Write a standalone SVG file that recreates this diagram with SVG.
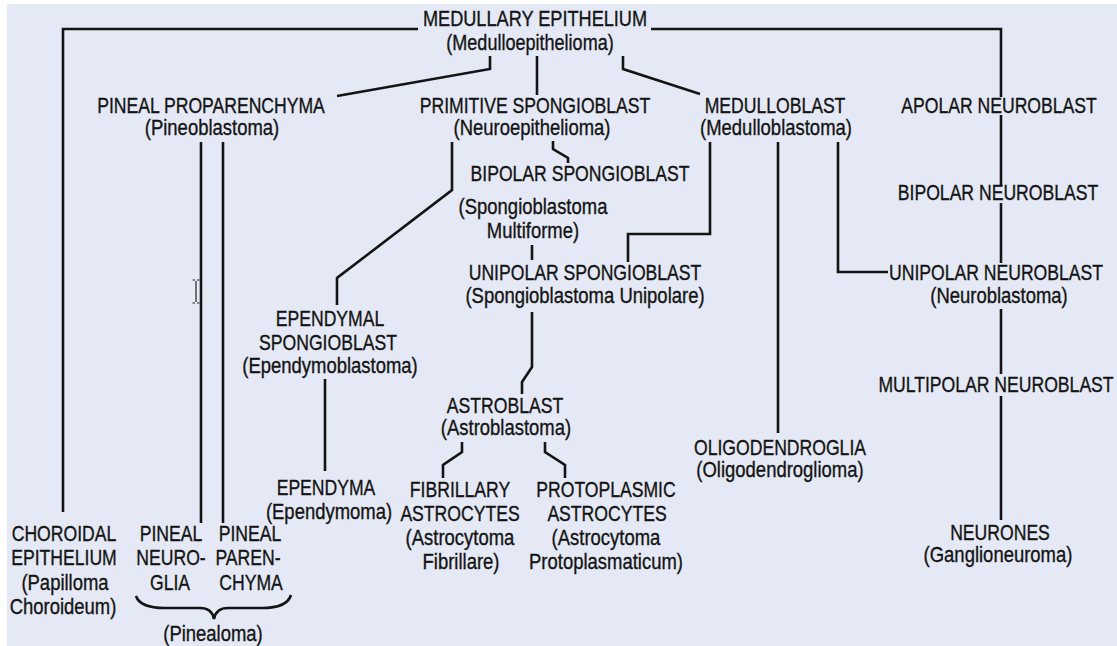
<svg xmlns="http://www.w3.org/2000/svg" width="1117" height="646" viewBox="0 0 1117 646">
<style>
text { font-family: "Liberation Sans", Arial, sans-serif; font-size: 22px; fill: #141414; stroke: #141414; stroke-width: 0.35px; text-anchor: middle; }
.c { fill: none; stroke: #141414; stroke-width: 2.6; stroke-linejoin: miter; }
.cur { fill: none; stroke: #222; stroke-width: 1.2; }
</style>
<rect x="0" y="0" width="1117" height="646" fill="#ffffff"/>
<rect x="7" y="4" width="1110" height="642" fill="#e4e9f5"/>

<g id="connectors">
<path class="c" d="M418,29 H63 V512"/>
<path class="c" d="M651,29 H1001 V97"/>
<path class="c" d="M490,56 V69 L337,96"/>
<path class="c" d="M537,56 V95"/>
<path class="c" d="M623,56 V69 L700,94"/>
<path class="c" d="M201,142 V523"/>
<path class="c" d="M223,142 V523"/>
<path class="c" d="M452,142 V190 L337,278 V305"/>
<path class="c" d="M553,141 V149 L568,158 V163"/>
<path class="c" d="M532,245 V260"/>
<path class="c" d="M710,142 V234 H628 V262"/>
<path class="c" d="M778,142 V433"/>
<path class="c" d="M838,142 V272 H888"/>
<path class="c" d="M1001,115 V186"/>
<path class="c" d="M1001,203 V263"/>
<path class="c" d="M1001,309 V374"/>
<path class="c" d="M1001,396 V520"/>
<path class="c" d="M532,312 V367 L522,382 V394"/>
<path class="c" d="M325,379 V471"/>
<path class="c" d="M462,442 V452 L443,465 V478"/>
<path class="c" d="M545,442 V452 L565,465 V478"/>
</g>

<g id="n-medullary">
<text transform="translate(535,26) scale(0.825,1)">MEDULLARY EPITHELIUM</text>
<text transform="translate(530,50) scale(0.82,1)">(Medulloepithelioma)</text>
</g>
<g id="n-pineal-proparenchyma">
<text transform="translate(211,113) scale(0.8,1)">PINEAL PROPARENCHYMA</text>
<text transform="translate(212,135) scale(0.84,1)">(Pineoblastoma)</text>
</g>
<g id="n-primitive-spongioblast">
<text transform="translate(535,113) scale(0.8,1)">PRIMITIVE SPONGIOBLAST</text>
<text transform="translate(532,135) scale(0.84,1)">(Neuroepithelioma)</text>
</g>
<g id="n-medulloblast">
<text transform="translate(775,113) scale(0.8,1)">MEDULLOBLAST</text>
<text transform="translate(776,135) scale(0.84,1)">(Medulloblastoma)</text>
</g>
<g id="n-apolar-neuroblast">
<text transform="translate(999,113) scale(0.8,1)">APOLAR NEUROBLAST</text>
</g>
<g id="n-bipolar-spongioblast">
<text transform="translate(580,181) scale(0.8,1)">BIPOLAR SPONGIOBLAST</text>
<text transform="translate(533,214) scale(0.84,1)">(Spongioblastoma</text>
<text transform="translate(533,238) scale(0.84,1)">Multiforme)</text>
</g>
<g id="n-bipolar-neuroblast">
<text transform="translate(998,200) scale(0.8,1)">BIPOLAR NEUROBLAST</text>
</g>
<g id="n-unipolar-spongioblast">
<text transform="translate(585,280) scale(0.8,1)">UNIPOLAR SPONGIOBLAST</text>
<text transform="translate(585,303) scale(0.84,1)">(Spongioblastoma Unipolare)</text>
</g>
<g id="n-unipolar-neuroblast">
<text transform="translate(996,280) scale(0.8,1)">UNIPOLAR NEUROBLAST</text>
<text transform="translate(999,303) scale(0.84,1)">(Neuroblastoma)</text>
</g>
<g id="n-ependymal-spongioblast">
<text transform="translate(330,326) scale(0.8,1)">EPENDYMAL</text>
<text transform="translate(328,350) scale(0.8,1)">SPONGIOBLAST</text>
<text transform="translate(330,373) scale(0.84,1)">(Ependymoblastoma)</text>
</g>
<g id="n-multipolar-neuroblast">
<text transform="translate(996,392) scale(0.8,1)">MULTIPOLAR NEUROBLAST</text>
</g>
<g id="n-astroblast">
<text transform="translate(505,413) scale(0.8,1)">ASTROBLAST</text>
<text transform="translate(506,435) scale(0.84,1)">(Astroblastoma)</text>
</g>
<g id="n-oligodendroglia">
<text transform="translate(780,455) scale(0.8,1)">OLIGODENDROGLIA</text>
<text transform="translate(780,477) scale(0.84,1)">(Oligodendroglioma)</text>
</g>
<g id="n-ependyma">
<text transform="translate(326,495) scale(0.8,1)">EPENDYMA</text>
<text transform="translate(329,519) scale(0.84,1)">(Ependymoma)</text>
</g>
<g id="n-fibrillary-astrocytes">
<text transform="translate(460,497) scale(0.8,1)">FIBRILLARY</text>
<text transform="translate(460,521) scale(0.8,1)">ASTROCYTES</text>
<text transform="translate(460,545) scale(0.84,1)">(Astrocytoma</text>
<text transform="translate(461,569) scale(0.84,1)">Fibrillare)</text>
</g>
<g id="n-protoplasmic-astrocytes">
<text transform="translate(606,497) scale(0.8,1)">PROTOPLASMIC</text>
<text transform="translate(607,521) scale(0.8,1)">ASTROCYTES</text>
<text transform="translate(606,545) scale(0.84,1)">(Astrocytoma</text>
<text transform="translate(606,569) scale(0.84,1)">Protoplasmaticum)</text>
</g>
<g id="n-neurones">
<text transform="translate(1000,540) scale(0.8,1)">NEURONES</text>
<text transform="translate(998,562) scale(0.84,1)">(Ganglioneuroma)</text>
</g>
<g id="n-choroidal-epithelium">
<text transform="translate(64,541) scale(0.8,1)">CHOROIDAL</text>
<text transform="translate(64,565) scale(0.8,1)">EPITHELIUM</text>
<text transform="translate(65,590) scale(0.84,1)">(Papilloma</text>
<text transform="translate(63,614) scale(0.84,1)">Choroideum)</text>
</g>
<g id="n-pineal-neuroglia">
<text transform="translate(171,541) scale(0.8,1)">PINEAL</text>
<text transform="translate(171,565) scale(0.8,1)">NEURO-</text>
<text transform="translate(170,590) scale(0.8,1)">GLIA</text>
</g>
<g id="n-pineal-parenchyma">
<text transform="translate(250,541) scale(0.8,1)">PINEAL</text>
<text transform="translate(248,565) scale(0.8,1)">PAREN-</text>
<text transform="translate(251,590) scale(0.8,1)">CHYMA</text>
</g>
<g id="n-pinealoma">
<path class="c" d="M136,596 Q140,608 165,608 H200 Q212,608 214,619 Q216,608 228,608 H262 Q287,608 291,595"/>
<text transform="translate(213,641) scale(0.84,1)">(Pinealoma)</text>
</g>
<g id="cursor">
<path class="cur" d="M196,281 V302 M192.5,280 H195 M197,280 H199.5 M192.5,303 H195 M197,303 H199.5"/>
</g>
</svg>
